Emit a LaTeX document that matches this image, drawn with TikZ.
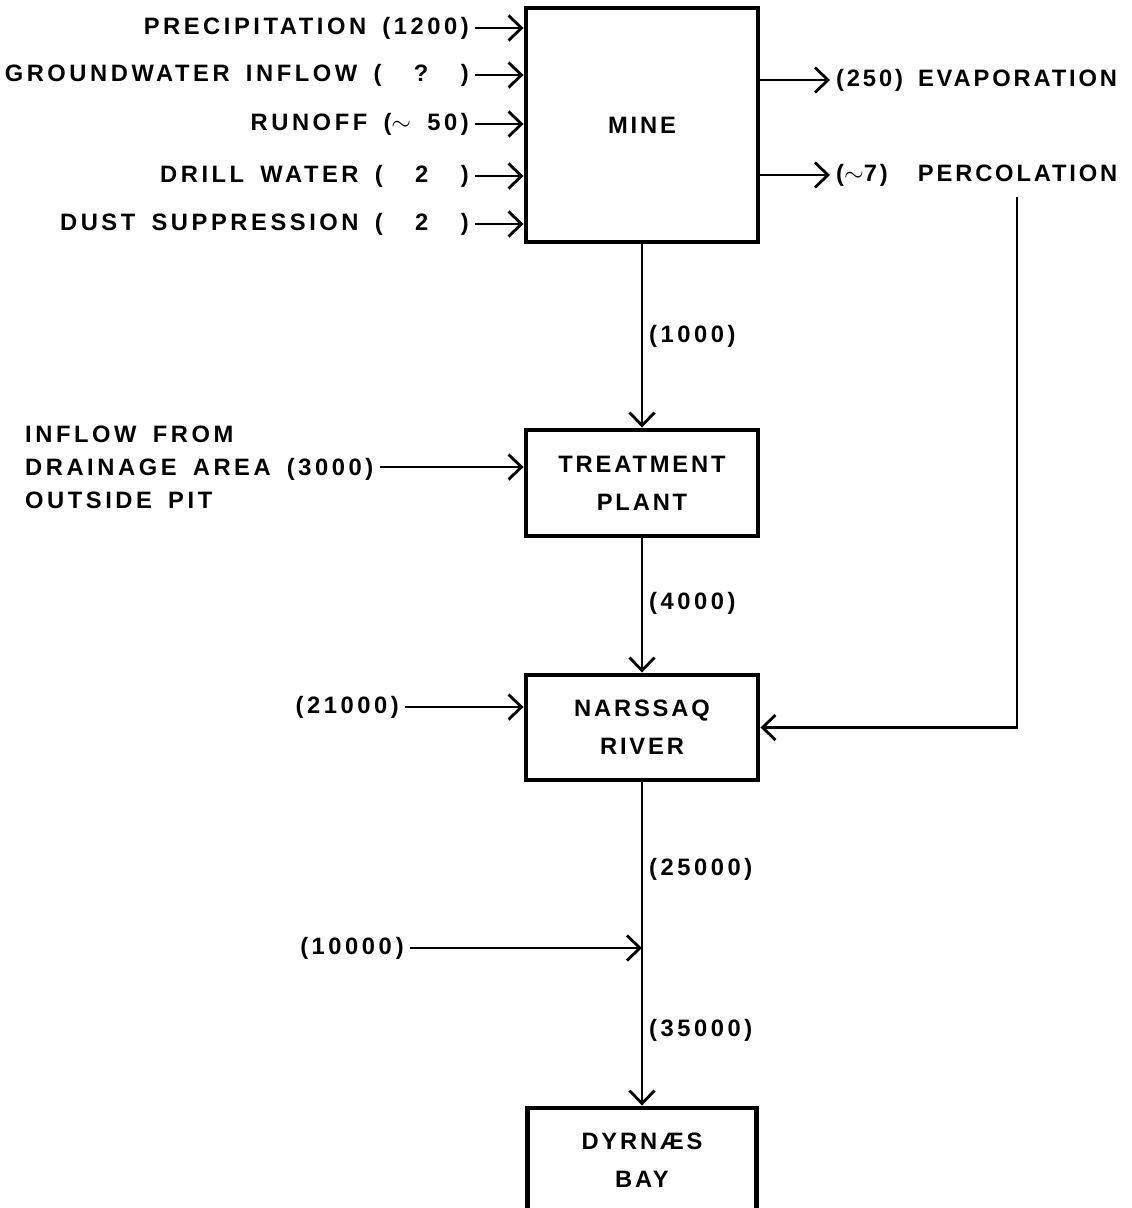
\documentclass[tikz,border=0pt]{standalone}
\usepackage{fontspec}
\setmainfont{Liberation Sans}[LetterSpace=12]
\newfontfamily\sidefont{Liberation Sans}[LetterSpace=15,WordSpace=1.6]
\newfontfamily\lossfont{Liberation Sans}[LetterSpace=12,WordSpace=1.6]
\usetikzlibrary{arrows.meta}

\tikzset{
  box/.style={draw,rectangle,line width=2.8pt,minimum width=4.64cm,align=center},
  flow/.style={line width=1.6pt,->},
  side/.style={font=\sidefont\fontsize{13.5}{18.7}\selectfont\bfseries},
  loss/.style={font=\lossfont\fontsize{13.5}{18.7}\selectfont\bfseries},
}

\begin{document}
\begin{tikzpicture}[>={Straight Barb[length=2.6mm,width=5mm]},font=\fontsize{13.5}{21.5}\selectfont\bfseries]
\useasboundingbox (0,0) rectangle (22.64,-24.16);
% boxes
\node[box,minimum height=4.68cm] (mine) at (12.84,-2.5) {MINE};
\node[box,minimum height=2.12cm] (treat) at (12.84,-9.66) {TREATMENT\\PLANT};
\node[box,minimum height=2.1cm] (river) at (12.84,-14.55) {NARSSAQ\\RIVER};
\node[box,minimum height=2.1cm,minimum width=4.58cm] (bay) at (12.84,-23.21) {DYRNÆS\\BAY};
% inputs to the mine
\node[side,anchor=east] (prec) at (9.5,-0.56) {PRECIPITATION (1200)};
\node[side,anchor=east] (gw) at (9.5,-1.5) {GROUNDWATER INFLOW (\ \ ?\ \ )};
\node[side,anchor=east] (runoff) at (9.5,-2.48) {RUNOFF ($\sim$ 50)};
\node[side,anchor=east] (drill) at (9.5,-3.52) {DRILL WATER (\ \ 2\ \ )};
\node[side,anchor=east] (dust) at (9.5,-4.48) {DUST SUPPRESSION (\ \ 2\ \ )};
\draw[flow] (prec.east) -- (prec.east -| mine.west);
\draw[flow] (gw.east) -- (gw.east -| mine.west);
\draw[flow] (runoff.east) -- (runoff.east -| mine.west);
\draw[flow] (drill.east) -- (drill.east -| mine.west);
\draw[flow] (dust.east) -- (dust.east -| mine.west);
% losses from the mine
\node[loss,anchor=west] (evap) at (16.6,-1.6) {(250) EVAPORATION};
\node[loss,anchor=west] (perc) at (16.6,-3.5) {($\sim$7)\ \ PERCOLATION};
\draw[flow] (evap.west -| mine.east) -- (evap.west);
\draw[flow] (perc.west -| mine.east) -- (perc.west);
\coordinate (pc) at (20.34,-3.94);
\draw[flow] (pc) |- (river.east);
% main line
\draw[flow] (mine.south) -- (treat.north);
\node[side,anchor=west] (q1000) at (12.86,-6.72) {(1000)};
\node[side,anchor=west,align=left] (drain) at (0.38,-9.34) {INFLOW FROM\\DRAINAGE AREA (3000)\\OUTSIDE PIT};
\draw[flow] (drain.east) -- (drain.east -| treat.west);
\draw[flow] (treat.south) -- (river.north);
\node[side,anchor=west] (q4000) at (12.86,-12.06) {(4000)};
\node[side,anchor=east] (q21) at (8.1,-14.14) {(21000)};
\draw[flow] (q21.east) -- (q21.east -| river.west);
\draw[flow] (river.south) -- (bay.north);
\node[side,anchor=west] (q25) at (12.86,-17.38) {(25000)};
\node[side,anchor=east] (q10) at (8.2,-18.96) {(10000\,)};
\coordinate (jn) at (q10.east -| river.south);
\draw[flow] (q10.east) -- (jn);
\node[side,anchor=west] (q35) at (12.86,-20.6) {(35000)};
\end{tikzpicture}
\end{document}
